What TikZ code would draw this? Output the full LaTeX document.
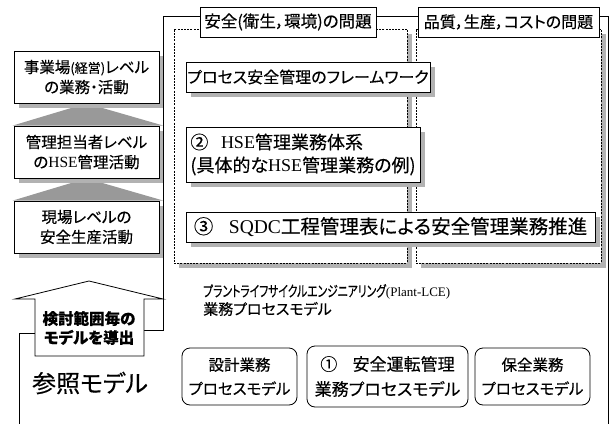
\documentclass[tikz,border=0pt]{standalone}
\usepackage{fontspec}
\setmainfont[RawFeature=+palt, FakeBold=0.3]{Noto Sans CJK JP}
\newfontfamily\lat{Liberation Serif}
\usetikzlibrary{backgrounds}
\newcommand{\fs}[2]{\fontsize{#1}{#2}\selectfont}
\begin{document}
\begin{tikzpicture}[x=1pt,y=-1pt,
  shbox/.style={draw=black, line width=0.8pt, fill=white, inner sep=0pt, align=center},
  dbox/.style={draw=black, line width=0.6pt, dash pattern=on 2pt off 1.2pt, fill=white, inner sep=0pt},
  lbox/.style={draw=black, line width=0.8pt, fill=white, inner sep=0pt, align=center},
  rbox/.style={draw=black, line width=0.8pt, fill=white, rounded corners=8pt, inner sep=0pt, align=center},
  shadowfill/.style={fill=black!30},
  tri/.style={fill=black!40},
  frame/.style={draw=black, line width=0.8pt},
  txt/.style={inner sep=0pt, align=left}
]
\useasboundingbox (0,0) rectangle (610,423);

% dashed problem areas
\fill[shadowfill] (179,34) rectangle (412,268);
\fill[shadowfill] (421,34) rectangle (606,268);
\node[dbox, minimum width=233, minimum height=234] (dA) at (290.5,146) {};
\node[dbox, minimum width=185, minimum height=234] (dB) at (508.5,146) {};

% header labels
\node[lbox, minimum width=176, minimum height=30, font=\fs{16.5}{18}] (hA) at (288,22) {安全(衛生，環境)の問題};
\node[lbox, minimum width=181, minimum height=30, font=\fs{16}{18}] (hB) at (508.5,22) {品質，生産，コストの問題};

% inner boxes (shadows first)
\fill[shadowfill] (191,67) rectangle (435,97);
\fill[shadowfill] (191,132) rectangle (425,187);
\fill[shadowfill] (191,217) rectangle (600,247);
\node[shbox, minimum width=244, minimum height=30, font=\fs{16}{18}] (fw) at (308,77) {プロセス安全管理のフレームワーク};
\node[shbox, minimum width=234, minimum height=55, font=\fs{18}{23}, align=left] (b2) at (303,154.5)
  {②\hspace{0.7em}{\lat HSE}管理業務体系\\(具体的な{\lat HSE}管理業務の例)};
\node[shbox, minimum width=409, minimum height=30, font=\fs{19.5}{20}] (b3) at (390.5,227)
  {③\hspace{0.8em}{\lat SQDC}工程管理表による安全管理業務推進};

% left level boxes
\node[shbox, minimum width=145, minimum height=52, font=\fs{15.5}{20}] (L1) at (86.5,77)
  {事業場{\fs{13}{20}(経営)}レベル\\の業務・活動};
\node[shbox, minimum width=145, minimum height=52, font=\fs{15.5}{20}] (L2) at (86.5,152)
  {管理担当者レベル\\の{\lat HSE}管理活動};
\node[shbox, minimum width=145, minimum height=52, font=\fs{15.5}{20}] (L3) at (86.5,227)
  {現場レベルの\\安全生産活動};

% arrow
\draw[frame, fill=white] (35,356) -- (35,299) -- (15,299) -- (89,281) -- (163,299) -- (144,299) -- (144,356) -- cycle;
\node[txt, align=center, font=\fs{15.5}{19}\bfseries] (ar) at (89,328) {検討範囲毎の\\モデルを導出};
\coordinate (shL) at (35,333);
\coordinate (shR) at (144,330);

% reference model
\node[txt, font=\fs{24}{26}] (ref) at (90,383) {参照モデル};

% Plant-LCE text
\node[txt, anchor=west, font=\fs{15}{18}] (plce) at (203,300)
  {\scalebox{0.72}[1]{プラントライフサイクルエンジニアリング}{\lat\fs{13}{18}(Plant-LCE)}\\業務プロセスモデル};

% process model boxes
\node[rbox, minimum width=115, minimum height=57, font=\fs{15.5}{24}] (r1) at (239.5,376.5) {設計業務\\プロセスモデル};
\node[rbox, minimum width=161, minimum height=61, font=\fs{17}{25}] (r2) at (387.5,376.5) {①\hspace{0.9em}安全運転管理\\業務プロセスモデル};
\node[rbox, minimum width=115, minimum height=57, font=\fs{15.5}{24}] (r3) at (532.5,376.5) {保全業務\\プロセスモデル};

\begin{scope}[on background layer]
  \fill[white] (0,0) rectangle (610,423);
  \fill[tri] (L1.south) -- ([xshift=-1pt]L2.north west) -- ([xshift=4pt]L2.north east) -- cycle;
  \fill[tri] (L2.south) -- ([xshift=-1pt]L3.north west) -- ([xshift=4pt]L3.north east) -- cycle;
  \foreach \b in {L1,L2,L3} {
    \fill[shadowfill] ([shift={(5,5)}]\b.north west) rectangle ([shift={(5,5)}]\b.south east);
  }
  \draw[frame] (19,430) -- (19,333) -- (shL);
  \draw[frame] (shR) -- (163,330) -- (163,16) -- (608.5,16) -- (608.5,430);
\end{scope}
\end{tikzpicture}
\end{document}
